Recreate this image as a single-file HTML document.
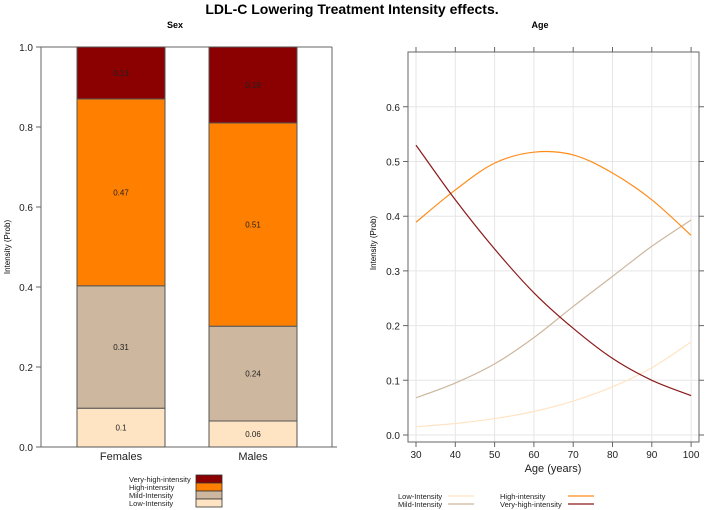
<!DOCTYPE html>
<html><head><meta charset="utf-8"><style>
body{margin:0;background:#fff;}
svg{display:block;font-family:"Liberation Sans",Arial,sans-serif;}
</style></head><body>
<svg id="chart" width="705" height="510" viewBox="0 0 705 510">
<text x="352" y="14" text-anchor="middle" font-weight="bold" font-size="14">LDL-C Lowering Treatment Intensity effects.</text>
<g id="left"></g>
<g id="right"></g>
</svg>
<script>
const sexCategories = ["Females", "Males"];
const lowSex = [0.097, 0.065];
const mildSex = [0.306, 0.237];
const highSex = [0.467, 0.508];
const vhighSex = [0.13, 0.19];
const lowLabels = ["0.1", "0.06"];
const mildLabels = ["0.31", "0.24"];
const highLabels = ["0.47", "0.51"];
const vhighLabels = ["0.13", "0.19"];
const leftTicks = [0, 0.2, 0.4, 0.6, 0.8, 1.0];
const leftTickLabels = ["0.0", "0.2", "0.4", "0.6", "0.8", "1.0"];

const ages = [30, 40, 50, 60, 70, 80, 90, 100];
const lowAge = [0.015, 0.021, 0.03, 0.043, 0.062, 0.088, 0.123, 0.17];
const mildAge = [0.068, 0.095, 0.13, 0.178, 0.235, 0.29, 0.345, 0.393];
const highAge = [0.389, 0.448, 0.497, 0.517, 0.512, 0.479, 0.43, 0.365];
const vhighAge = [0.53, 0.43, 0.34, 0.26, 0.195, 0.14, 0.10, 0.072];
const rightYTicks = [0, 0.1, 0.2, 0.3, 0.4, 0.5, 0.6];
const rightYLabels = ["0.0", "0.1", "0.2", "0.3", "0.4", "0.5", "0.6"];
const xTicks = [30, 40, 50, 60, 70, 80, 90, 100];

const NS = "http://www.w3.org/2000/svg";
function mk(parent, tag, attrs, text) {
  const e = document.createElementNS(NS, tag);
  for (const k in attrs) e.setAttribute(k, attrs[k]);
  if (text !== undefined) e.textContent = text;
  parent.appendChild(e);
  return e;
}
const colors = {low: "#FFE4C4", mild: "#CDB79E", high: "#FF7F00", vhigh: "#8B0000"};

// LEFT PANEL
const L = document.getElementById("left");
const ly = v => 447 - v * 400;
const bandC = i => 121 + i * 132;
const barW = 88;
let t = mk(L, "text", {x: 175, y: 28, "text-anchor": "middle", "font-weight": "bold", "font-size": 9});
t.textContent = "Sex";


let ax = mk(L, "path", {d: "M37 447 H337 M41 447 V47 M332 447 V47 M41 47 H332", stroke: "#666", fill: "none", "stroke-width": 1});


leftTicks.forEach((v, i) => {
  const tk = mk(L, "line", {x1: 36, x2: 41, y1: ly(v), y2: ly(v), stroke: "#666"});
  
  
  const tl = mk(L, "text", {x: 33, y: ly(v) + 4, "text-anchor": "end", "font-size": 10, fill: "#222"}, leftTickLabels[i]);
  
  
});
let yt = mk(L, "text", {x: 0, y: 0, transform: "translate(10,247) rotate(-90)", "text-anchor": "middle", "font-size": 8}, "Intensity (Prob)");


const segs = [["low", lowSex, lowLabels], ["mild", mildSex, mildLabels], ["high", highSex, highLabels], ["vhigh", vhighSex, vhighLabels]];
sexCategories.forEach((c, i) => {
  let base = 0;
  segs.forEach(([key, arr, labs]) => {
    const v = arr[i];
    const top = key === "vhigh" ? 1 : base + v;
    const r = mk(L, "rect", {x: bandC(i) - barW / 2, y: ly(top), width: barW, height: ly(base) - ly(top), fill: colors[key], stroke: "#555", "stroke-width": 1});
    
    
    const lb = mk(L, "text", {x: bandC(i), y: (ly(top) + ly(base)) / 2 + 3, "text-anchor": "middle", "font-size": 8, fill: "#222"}, labs[i]);
    
    
    base = top;
  });
  const xl = mk(L, "text", {x: bandC(i), y: 460, "text-anchor": "middle", "font-size": 11, fill: "#222"}, c);
  
  
});
// left legend
const legL = [["Very-high-intensity", "vhigh"], ["High-intensity", "high"], ["Mild-Intensity", "mild"], ["Low-Intensity", "low"]];
legL.forEach(([lab, key], i) => {
  const y = 475 + i * 8;
  const tx = mk(L, "text", {x: 129, y: y + 7, "font-size": 7.5, fill: "#222"}, lab);
  
  
  const sw = mk(L, "rect", {x: 196, y: y, width: 26, height: 8, fill: colors[key], stroke: "#333", "stroke-width": 0.8});
  
  
});

// RIGHT PANEL
const R = document.getElementById("right");
const rx = a => 416 + (a - 30) * 3.93;
const ry = v => 435 - v * 547;
let rt = mk(R, "text", {x: 540, y: 28, "text-anchor": "middle", "font-weight": "bold", "font-size": 9}, "Age");


xTicks.forEach(a => {
  const g = mk(R, "line", {x1: rx(a), x2: rx(a), y1: 52, y2: 442, stroke: "#e6e6e6"});
  
  
});
rightYTicks.forEach(v => {
  const g = mk(R, "line", {x1: 408, x2: 699, y1: ry(v), y2: ry(v), stroke: "#e6e6e6"});
  
  
});
let box = mk(R, "rect", {x: 408, y: 52, width: 291, height: 390, fill: "none", stroke: "#666"});


xTicks.forEach(a => {
  const tk = mk(R, "path", {d: `M${rx(a)} 442 V447 M${rx(a)} 52 V47`, stroke: "#666"});
  
  
  const tl = mk(R, "text", {x: rx(a), y: 458, "text-anchor": "middle", "font-size": 10, fill: "#222"}, String(a));
  
  
});
rightYTicks.forEach((v, i) => {
  const tk = mk(R, "path", {d: `M403 ${ry(v)} H408 M699 ${ry(v)} H704`, stroke: "#666"});
  
  
  const tl = mk(R, "text", {x: 400, y: ry(v) + 4, "text-anchor": "end", "font-size": 10, fill: "#222"}, rightYLabels[i]);
  
  
});
let xt = mk(R, "text", {x: 553, y: 472, "text-anchor": "middle", "font-size": 11, fill: "#222"}, "Age (years)");


let ryt = mk(R, "text", {x: 0, y: 0, transform: "translate(376,243) rotate(-90)", "text-anchor": "middle", "font-size": 8}, "Intensity (Prob)");


function smooth(xs, ys) {
  const p = xs.map((x, i) => [rx(x), ry(ys[i])]);
  let d = `M${p[0][0]},${p[0][1]}`;
  for (let i = 0; i < p.length - 1; i++) {
    const p0 = p[i - 1] || p[i], p1 = p[i], p2 = p[i + 1], p3 = p[i + 2] || p2;
    const c1 = [p1[0] + (p2[0] - p0[0]) / 6, p1[1] + (p2[1] - p0[1]) / 6];
    const c2 = [p2[0] - (p3[0] - p1[0]) / 6, p2[1] - (p3[1] - p1[1]) / 6];
    d += ` C${c1[0]},${c1[1]} ${c2[0]},${c2[1]} ${p2[0]},${p2[1]}`;
  }
  return d;
}
const lineCols = {low: "#FFE4C4", mild: "#CDB79E", high: "#FF8C1A", vhigh: "#8B1A1A"};
[["low", lowAge], ["mild", mildAge], ["high", highAge], ["vhigh", vhighAge]].forEach(([k, arr]) => {
  const pth = mk(R, "path", {d: smooth(ages, arr), fill: "none", stroke: lineCols[k], "stroke-width": 1.2});
  
  
});
const legR = [["Low-Intensity", "low", 398, 448, 496], ["Mild-Intensity", "mild", 398, 448, 504], ["High-intensity", "high", 500, 568, 496], ["Very-high-intensity", "vhigh", 500, 568, 504]];
legR.forEach(([lab, k, tx, lx, y]) => {
  const te = mk(R, "text", {x: tx, y: y + 3, "font-size": 7.5, fill: "#222"}, lab);
  
  
  const ln = mk(R, "line", {x1: lx, x2: lx + 26, y1: y, y2: y, stroke: lineCols[k], "stroke-width": 1.2});
  
  
});
</script>
</body></html>
